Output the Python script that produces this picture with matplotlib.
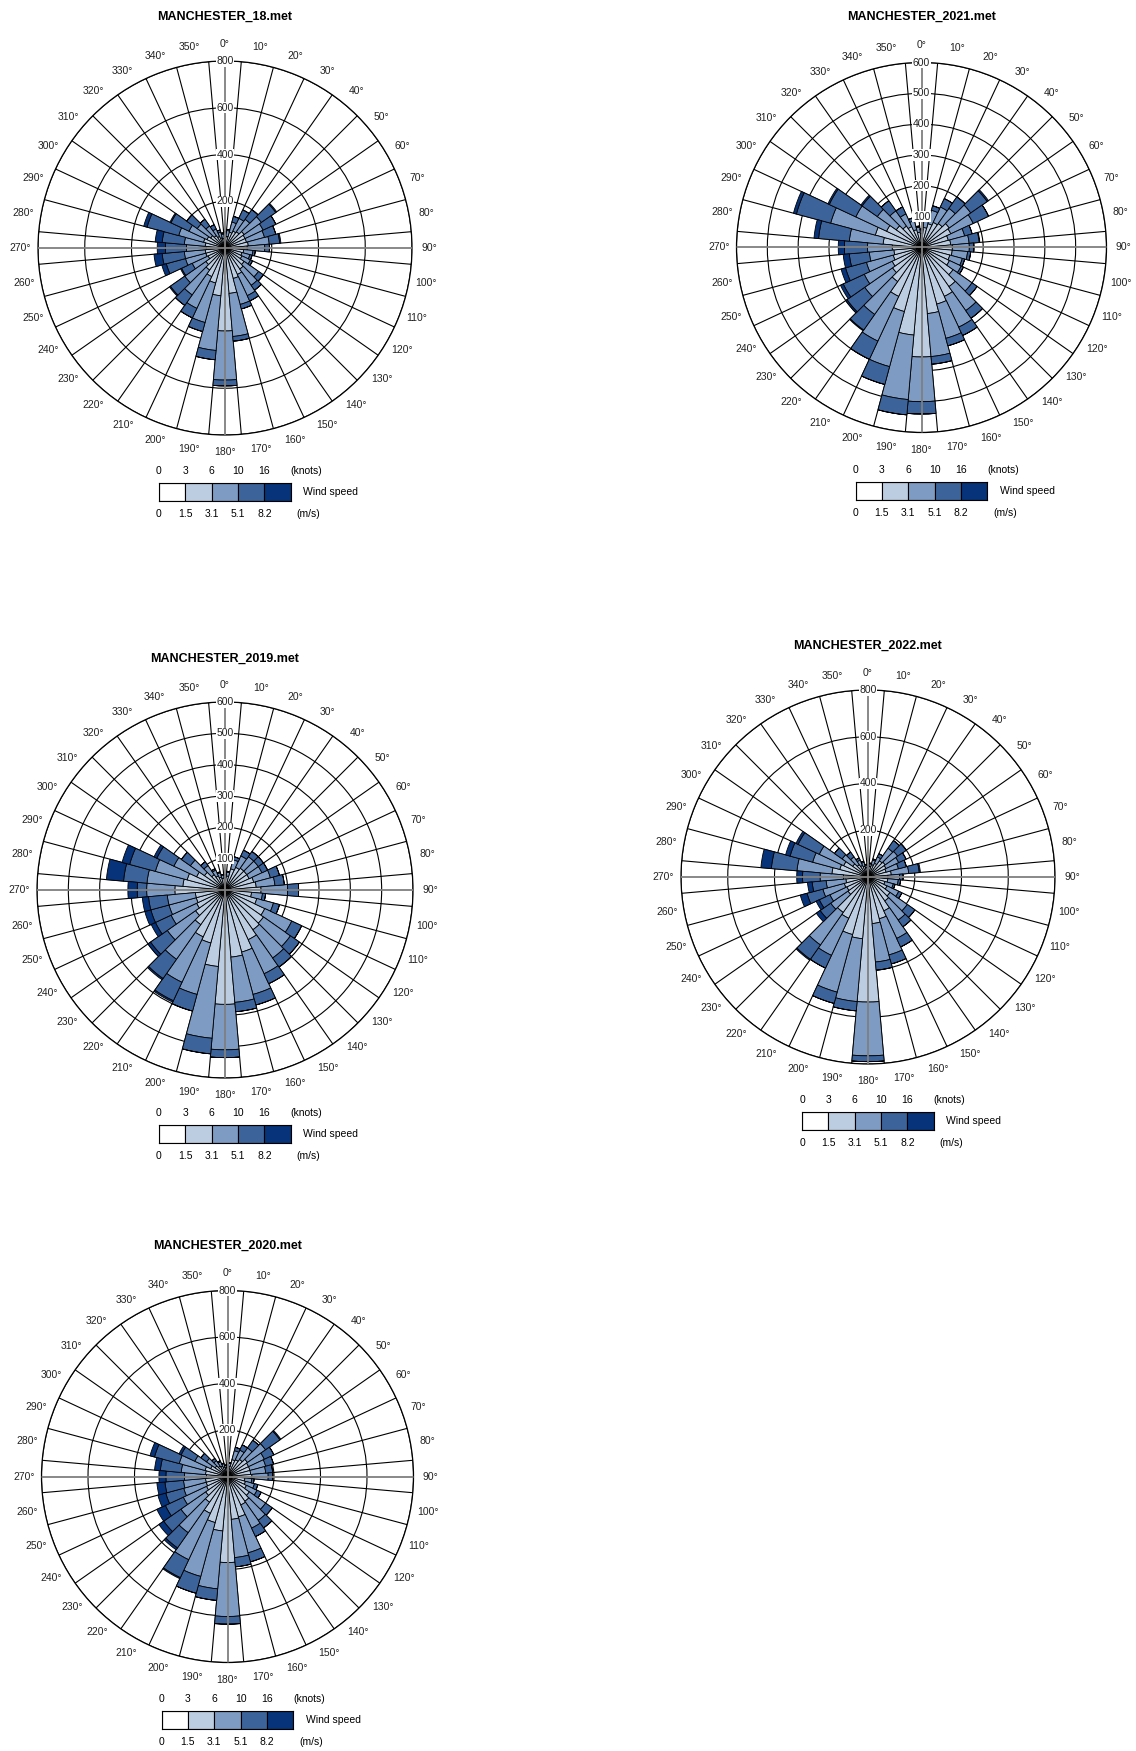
import numpy as np
import matplotlib
matplotlib.use('Agg')
import matplotlib.pyplot as plt
from matplotlib.ticker import NullFormatter

plt.rcParams['font.family'] = ['Liberation Sans', 'DejaVu Sans']

FIG_W = 1136
FIG_H = 1751
DPI = 100

DIRECTIONS = list(range(0, 360, 10))
SPEED_COLORS = ['#ffffff', '#bdcde1', '#7d9bc3', '#3c649b', '#06337a']
KNOTS_LABELS = ['0', '3', '6', '10', '16']
MS_LABELS = ['0', '1.5', '3.1', '5.1', '8.2']

# counts per direction (rows, 0..350 deg) and speed class
# columns: 0-1.5, 1.5-3.1, 3.1-5.1, 5.1-8.2, >8.2 m/s
MAN_18 = [
    [15, 30, 20, 5, 0], [15, 35, 25, 5, 0], [15, 55, 45, 25, 0], [15, 65, 60, 40, 0],
    [15, 70, 65, 50, 0], [15, 85, 90, 75, 5], [15, 80, 85, 60, 0], [15, 80, 80, 50, 0],
    [15, 85, 90, 45, 5], [15, 80, 75, 20, 0], [15, 65, 40, 10, 0], [15, 60, 35, 10, 0],
    [15, 65, 40, 10, 0], [15, 85, 75, 25, 0], [15, 95, 85, 25, 0], [15, 110, 100, 25, 0],
    [15, 120, 115, 20, 0], [15, 180, 185, 20, 0], [15, 340, 210, 25, 0], [15, 190, 235, 40, 0],
    [15, 140, 175, 40, 0], [15, 120, 150, 45, 0], [15, 100, 130, 55, 0], [15, 85, 110, 75, 5],
    [15, 65, 75, 50, 5], [15, 70, 90, 85, 20], [15, 70, 90, 95, 35], [15, 65, 85, 90, 35],
    [15, 70, 90, 95, 30], [15, 80, 110, 140, 15], [15, 70, 85, 85, 5], [15, 60, 70, 55, 0],
    [15, 50, 50, 35, 0], [15, 40, 35, 20, 0], [15, 30, 25, 10, 0], [15, 25, 20, 5, 0],
]

MAN_2021 = [
    [15, 30, 12, 3, 0], [15, 50, 28, 7, 0], [15, 65, 45, 15, 0], [15, 75, 55, 30, 0],
    [15, 80, 60, 45, 0], [15, 95, 85, 65, 5], [15, 90, 80, 55, 0], [15, 75, 55, 25, 0],
    [15, 80, 60, 33, 2], [15, 85, 55, 15, 0], [15, 85, 50, 10, 0], [15, 80, 42, 8, 0],
    [15, 85, 42, 8, 0], [15, 110, 75, 20, 0], [15, 140, 95, 30, 0], [15, 160, 110, 30, 0],
    [15, 175, 115, 25, 0], [15, 200, 140, 25, 0], [15, 340, 145, 40, 0], [15, 270, 210, 50, 0],
    [15, 200, 185, 60, 0], [15, 160, 160, 65, 0], [15, 120, 130, 62, 3], [15, 100, 110, 70, 5],
    [15, 90, 100, 75, 10], [15, 80, 90, 70, 15], [15, 75, 80, 65, 20], [15, 80, 80, 75, 20],
    [15, 110, 110, 100, 15], [15, 140, 150, 115, 10], [15, 110, 110, 95, 5], [15, 85, 75, 60, 5],
    [15, 70, 60, 40, 0], [15, 60, 45, 25, 0], [15, 45, 30, 10, 0], [15, 35, 16, 4, 0],
]

MAN_2019 = [
    [15, 25, 8, 2, 0], [15, 30, 12, 3, 0], [15, 55, 30, 10, 0], [15, 65, 40, 20, 0],
    [15, 70, 45, 20, 0], [15, 70, 45, 20, 0], [15, 70, 45, 20, 0], [15, 80, 55, 30, 0],
    [15, 85, 60, 30, 0], [15, 100, 85, 35, 0], [15, 70, 35, 10, 0], [15, 90, 55, 20, 0],
    [15, 125, 95, 35, 0], [15, 135, 105, 35, 0], [15, 140, 110, 35, 0], [15, 160, 120, 35, 0],
    [15, 190, 140, 35, 0], [15, 200, 145, 30, 0], [15, 350, 145, 25, 0], [15, 230, 230, 50, 0],
    [15, 160, 170, 55, 0], [15, 150, 160, 65, 5], [15, 120, 135, 75, 5], [15, 100, 110, 65, 10],
    [15, 85, 90, 55, 15], [15, 80, 90, 60, 20], [15, 80, 90, 60, 20], [15, 145, 90, 30, 30],
    [15, 120, 115, 75, 55], [15, 110, 105, 85, 25], [15, 85, 80, 60, 10], [15, 65, 55, 35, 0],
    [15, 45, 35, 15, 0], [15, 35, 20, 5, 0], [15, 28, 14, 3, 0], [15, 23, 10, 2, 0],
]

MAN_2022 = [
    [15, 25, 8, 2, 0], [15, 30, 12, 3, 0], [15, 40, 20, 5, 0], [15, 50, 30, 15, 0],
    [15, 70, 65, 40, 0], [15, 75, 65, 45, 0], [15, 70, 60, 35, 0], [15, 65, 55, 35, 0],
    [15, 85, 75, 45, 5], [15, 70, 50, 15, 0], [15, 70, 45, 10, 0], [15, 60, 37, 8, 0],
    [15, 75, 55, 15, 0], [15, 100, 90, 40, 0], [15, 110, 100, 35, 0], [15, 145, 130, 40, 0],
    [15, 170, 160, 40, 0], [15, 185, 165, 35, 0], [15, 520, 230, 25, 0], [15, 250, 270, 40, 0],
    [15, 240, 255, 50, 0], [15, 180, 175, 60, 0], [15, 170, 170, 75, 5], [15, 90, 90, 55, 20],
    [15, 85, 80, 50, 15], [15, 90, 95, 70, 30], [15, 80, 85, 60, 20], [15, 90, 100, 75, 25],
    [15, 140, 150, 110, 45], [15, 110, 120, 100, 20], [15, 100, 115, 100, 10], [15, 65, 55, 40, 0],
    [15, 50, 40, 25, 0], [15, 40, 25, 10, 0], [15, 32, 18, 5, 0], [15, 25, 12, 3, 0],
]

MAN_2020 = [
    [15, 25, 8, 2, 0], [15, 30, 12, 3, 0], [15, 60, 40, 15, 0], [15, 65, 45, 25, 0],
    [15, 75, 60, 40, 0], [15, 90, 95, 75, 5], [15, 85, 75, 45, 0], [15, 85, 70, 35, 0],
    [15, 85, 65, 30, 0], [15, 90, 70, 20, 0], [15, 60, 30, 10, 0], [15, 65, 40, 15, 0],
    [15, 75, 50, 20, 0], [15, 100, 85, 35, 0], [15, 115, 100, 40, 0], [15, 120, 110, 40, 0],
    [15, 165, 160, 40, 0], [15, 170, 165, 40, 0], [15, 355, 232, 33, 0], [15, 220, 250, 50, 0],
    [15, 190, 240, 75, 0], [15, 160, 220, 85, 5], [15, 120, 160, 80, 10], [15, 100, 130, 90, 25],
    [15, 85, 110, 85, 40], [15, 80, 100, 80, 35], [15, 80, 95, 80, 35], [15, 75, 95, 80, 30],
    [15, 80, 105, 90, 25], [15, 85, 115, 110, 20], [15, 65, 75, 65, 10], [15, 50, 45, 30, 0],
    [15, 40, 28, 12, 0], [15, 35, 20, 5, 0], [15, 28, 14, 3, 0], [15, 23, 10, 2, 0],
]

RINGS_800 = [200, 400, 600, 800]
RINGS_600 = [100, 200, 300, 400, 500, 600]

# title, data, rings, centre x, centre y, radius (pixels)
ROSES = [
    ('MANCHESTER_18.met', MAN_18, RINGS_800, 225, 248, 187),
    ('MANCHESTER_2021.met', MAN_2021, RINGS_600, 921.5, 247.5, 185),
    ('MANCHESTER_2019.met', MAN_2019, RINGS_600, 225, 890, 188),
    ('MANCHESTER_2022.met', MAN_2022, RINGS_800, 868, 877, 187),
    ('MANCHESTER_2020.met', MAN_2020, RINGS_800, 227.5, 1476.5, 186),
]

fig = plt.figure(figsize=(FIG_W / DPI, FIG_H / DPI), dpi=DPI)


def draw_rose(title, data, rings, cx, cy, radius):
    ax = fig.add_axes([(cx - radius) / FIG_W, 1 - (cy + radius) / FIG_H,
                       2 * radius / FIG_W, 2 * radius / FIG_H], projection='polar')
    ax.set_theta_zero_location('N')
    ax.set_theta_direction(-1)

    counts = np.array(data, dtype=float)
    theta = np.deg2rad(DIRECTIONS)
    bottom = np.zeros(len(DIRECTIONS))
    for k in range(counts.shape[1]):
        ax.bar(theta, counts[:, k], width=np.deg2rad(10), bottom=bottom, color=SPEED_COLORS[k],
               edgecolor='black', linewidth=0.6, zorder=2)
        bottom += counts[:, k]

    rmax = rings[-1]
    ax.set_ylim(0, rmax)
    ax.set_xticks(np.deg2rad(np.arange(5, 360, 10)))
    ax.set_yticks(rings)
    ax.xaxis.set_major_formatter(NullFormatter())
    ax.yaxis.set_major_formatter(NullFormatter())
    ax.set_axisbelow(True)
    ax.grid(True, color='black', linewidth=0.8)
    ax.spines['polar'].set_linewidth(0.9)

    for d in (0, 90, 180, 270):
        ax.plot([np.deg2rad(d)] * 2, [0, rmax], color='#7f7f7f', linewidth=1.3, zorder=3)

    for r in rings:
        ax.text(0, r, str(r), ha='center', va='center', fontsize=7.5, color='#222222', zorder=5,
                bbox=dict(facecolor='white', edgecolor='none', pad=0.4))

    for d in DIRECTIONS:
        ax.text(np.deg2rad(d), rmax * 1.093, '{}°'.format(d), ha='center', va='center',
                fontsize=7.5, color='#222222', clip_on=False)

    fig.text(cx / FIG_W, 1 - (cy - 231) / FIG_H, title, ha='center', va='center',
             fontsize=9, fontweight='bold')


def draw_legend(cx, cy):
    left = cx - 66
    width = 131.7
    height = 18
    top = cy + 243.7 - height / 2
    lax = fig.add_axes([left / FIG_W, 1 - (top + height) / FIG_H, width / FIG_W, height / FIG_H])
    lax.bar(range(5), [1] * 5, width=1, align='edge', color=SPEED_COLORS, edgecolor='black', linewidth=0.8)
    lax.set_xlim(0, 5)
    lax.set_ylim(0, 1)
    lax.set_xticks([])
    lax.set_yticks([])
    for s in lax.spines.values():
        s.set_linewidth(0.8)

    for i in range(5):
        lax.text(i, 1 + 12.0 / height, KNOTS_LABELS[i], ha='center', va='center', fontsize=7.5, clip_on=False)
        lax.text(i, -13 / height, MS_LABELS[i], ha='center', va='center', fontsize=7.5, clip_on=False)
    lax.text(5.0, 1 + 12.0 / height, '(knots)', ha='left', va='center', fontsize=7.5, clip_on=False)
    lax.text(5.23, -13 / height, '(m/s)', ha='left', va='center', fontsize=7.5, clip_on=False)
    lax.text(5.47, 0.5, 'Wind speed', ha='left', va='center', fontsize=7.5, clip_on=False)


for title, data, rings, cx, cy, radius in ROSES:
    draw_rose(title, data, rings, cx, cy, radius)
    draw_legend(cx, cy)

fig.savefig('out.png', dpi=DPI)
